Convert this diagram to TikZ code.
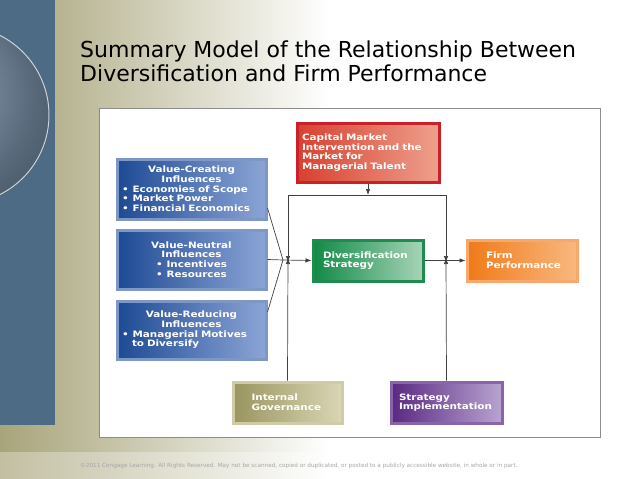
\documentclass[tikz,border=0pt]{standalone}
\usepackage{fontspec}
\setmainfont{DejaVu Sans}
\newfontfamily\boxfont[FakeStretch=1.18]{DejaVu Sans}
\usetikzlibrary{arrows.meta,shadings}
\definecolor{olive1}{HTML}{A8A47A}
\definecolor{bluestrip}{HTML}{4E6B86}
\definecolor{bluerim}{HTML}{7F97C4}
\definecolor{blueA}{HTML}{1D4A94}
\definecolor{blueB}{HTML}{8CA5D6}
\definecolor{redrim}{HTML}{C9202A}
\definecolor{redA}{HTML}{D8402F}
\definecolor{redB}{HTML}{EDA08C}
\definecolor{greenrim}{HTML}{1E8C4E}
\definecolor{greenA}{HTML}{108A45}
\definecolor{greenB}{HTML}{A8D4B8}
\definecolor{orangerim}{HTML}{F7A86A}
\definecolor{orangeA}{HTML}{F07A18}
\definecolor{orangeB}{HTML}{F9B880}
\definecolor{olvrim}{HTML}{CFCBA6}
\definecolor{olvA}{HTML}{99955F}
\definecolor{olvB}{HTML}{DAD6B6}
\definecolor{purprim}{HTML}{8A64AA}
\definecolor{purpA}{HTML}{5A2882}
\definecolor{purpB}{HTML}{B8A4D0}
\newcommand{\ctr}[1]{\makebox[\linewidth][c]{#1}}
\newcommand{\bul}{•\hspace{4pt}}
\tikzset{
  cbox/.style n args={5}{draw=#1, line width=3pt, left color=#2, right color=#3,
     minimum width=#4, minimum height=#5, text width=#4-10pt, inner sep=0pt,
     text=white, align=left, font=\boxfont\bfseries\fontsize{8.8}{9.7}\selectfont},
  conn/.style={draw=black!75, line width=0.7pt},
  arr/.style={conn, -{Latex[length=6pt,width=4.5pt]}}
}
\begin{document}
\begin{tikzpicture}[x=1pt,y=-1pt]
\useasboundingbox (0,0) rectangle (638,479);
\fill[white] (0,0) rectangle (638,479);
\shade[left color=olive1, right color=white] (0,0) rectangle (330,452);
\fill[white] (330,0) rectangle (638,452);
\shade[left color=olive1!70, right color=white] (0,452) rectangle (330,479);
\fill[white] (330,452) rectangle (638,479);
\begin{scope}
\clip (0,0) rectangle (55,425);
\fill[bluestrip] (0,0) rectangle (55,425);
\shade[ball color=bluestrip!30!white, opacity=0.45] (-40,115) circle (90);
\draw[white!70!bluestrip, line width=1pt] (-40,115) circle (89);
\end{scope}
\node[anchor=base west, inner sep=0pt, font=\fontsize{22}{24}\selectfont] (t1) at (80,57) {Summary Model of the Relationship Between};
\node[anchor=base west, inner sep=0pt, font=\fontsize{22}{24}\selectfont] (t2) at (80,81) {Diversification and Firm Performance};
\node[draw=black!45, fill=white, line width=0.8pt, minimum width=501, minimum height=329, anchor=north west] (panel) at (99,108) {};
\node[cbox={redrim}{redA}{redB}{142}{59}] (cap) at (368,152.5)
  {Capital Market\\Intervention and the\\Market for\\Managerial Talent};
\node[cbox={bluerim}{blueA}{blueB}{149}{60}] (vc) at (191.5,189)
  {\ctr{Value-Creating}\\\ctr{Influences}\\\bul Economies of Scope\\\bul Market Power\\\bul Financial Economics};
\node[cbox={bluerim}{blueA}{blueB}{149}{59}] (vn) at (191.5,259.5)
  {\ctr{Value-Neutral}\\\ctr{Influences}\\\hspace*{34pt}\bul Incentives\\\hspace*{34pt}\bul Resources};
\node[cbox={bluerim}{blueA}{blueB}{149}{58}] (vr) at (191.5,330)
  {\ctr{Value-Reducing}\\\ctr{Influences}\\\bul Managerial Motives\\\hspace*{10pt}to Diversify};
\node[cbox={greenrim}{greenA}{greenB}{110}{41}, text width=90] (div) at (368,260.5)
  {Diversification\\Strategy};
\node[cbox={orangerim}{orangeA}{orangeB}{110}{41}, text width=72] (fp) at (522,260.5)
  {Firm\\Performance};
\node[cbox={olvrim}{olvA}{olvB}{109}{41}, text width=72] (ig) at (287.5,402.5)
  {Internal\\Governance};
\node[cbox={purprim}{purpA}{purpB}{111}{41}, text width=95] (si) at (446.5,402.5)
  {Strategy\\Implementation};
\coordinate (J) at (283,260);
\coordinate (TL) at (288,195);
\coordinate (TR) at (446,195);
\coordinate (LM) at (288,260);
\coordinate (RM) at (446,260);
\draw[conn] (vc.east |- 0,208) -- (J);
\draw[conn] (vn.east) -- (J);
\draw[conn] (vr.east |- 0,312) -- (J);
\draw[arr] (J) -- (div.west);
\draw[arr] (div.east) -- (fp.west);
\draw[arr] (cap.south) -- (cap.south |- TL);
\draw[conn] (TL) -- (TR);
\draw[arr] (TL) -- ([yshift=-2]LM);
\draw[arr] (TR) -- ([yshift=-2]RM);
\draw[arr] (ig.north) -- ([yshift=2]LM);
\draw[arr] (si.north) -- ([yshift=2]RM);
\node[anchor=base west, inner sep=0pt, text=black!35, font=\fontsize{5.7}{6}\selectfont] (foot) at (80,467)
  {©2011 Cengage Learning. All Rights Reserved. May not be scanned, copied or duplicated, or posted to a publicly accessible website, in whole or in part.};
\end{tikzpicture}
\end{document}
